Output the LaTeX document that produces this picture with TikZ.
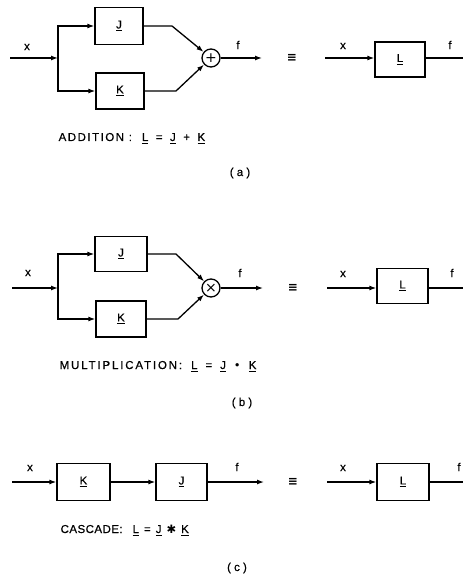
\documentclass[tikz,border=0pt]{standalone}
\usepackage{fontspec}
\setmainfont{Liberation Sans}[FakeBold=0.6]
\newfontfamily\symfont{DejaVu Sans}
\usetikzlibrary{arrows.meta}
\newcommand{\ul}[1]{\setbox0\hbox{#1}\rlap{\rule[-3pt]{\wd0}{1.1pt}}\box0}
\newcommand{\eqnrow}[2]{\ul{L}\hspace{#1}=\hspace{#1}\ul{J}\hspace{#1}#2\hspace{#1}\ul{K}}
\newcommand{\spaced}[2]{{\addfontfeature{LetterSpace=#1}#2}}
\begin{document}
\begin{tikzpicture}[x=1pt,y=-1pt,line width=1.3pt,
  blk/.style={draw,line width=1.3pt,inner sep=0pt,font=\fontsize{11.5}{13}\selectfont},
  sumc/.style={draw,circle,minimum size=18pt,inner sep=0pt,font=\fontsize{14}{14}\selectfont\symfont},
  arr/.style={-{Latex[length=7pt,width=5pt]}},
  lbl/.style={inner sep=0pt,font=\fontsize{11.5}{13}\selectfont},
  captxt/.style={inner sep=0pt,anchor=base west,font=\fontsize{11.5}{13}\selectfont},
  eqv/.style={inner sep=0pt,font=\fontsize{12}{14}\selectfont\symfont\bfseries}]
\useasboundingbox (0,0) rectangle (463,577);
% ---------------- (a) ----------------
\coordinate (ina) at (10,58);
\coordinate (bra) at (58,58);
\node[blk,minimum width=48pt,minimum height=37pt] (Ja) at (119,26) {\ul{J}};
\node[blk,minimum width=48pt,minimum height=36pt] (Ka) at (120,91) {\ul{K}};
\node[sumc] (suma) at (211,58) {+};
\coordinate (cJa) at (172,26);
\coordinate (cKa) at (176,91);
\coordinate (outa) at (262,58);
\draw[arr] (ina) -- (bra);
\draw[arr] (bra) |- (Ja.west);
\draw[arr] (bra) |- (Ka.west);
\draw[arr] (Ja.east) -- (cJa) -- (suma);
\draw[arr] (Ka.east) -- (cKa) -- (suma);
\draw[arr] (suma) -- (outa);
\node[lbl] (xa) at (27,47) {x};
\node[lbl] (fa) at (238,45) {f};
\node[eqv] (eqa) at (292,58) {≡};
\coordinate (inLa) at (325,58);
\node[blk,minimum width=50pt,minimum height=35pt] (La) at (400,59.5) {\ul{L}};
\coordinate (endLa) at (463,58);
\draw[arr] (inLa) -- (inLa -| La.west);
\draw (inLa -| La.east) -- (endLa);
\node[lbl] (xLa) at (343,46) {x};
\node[lbl] (fLa) at (450,45) {f};
\node[captxt] (capa) at (58,141) {\spaced{13}{ADDITION :}\hspace{10pt}\eqnrow{7.5pt}{+}};
\node[lbl] (laba) at (240,173) {( a )};
% ---------------- (b) ----------------
\coordinate (inb) at (12,288);
\coordinate (brb) at (58,288);
\node[blk,minimum width=52pt,minimum height=35pt] (Jb) at (121,254) {\ul{J}};
\node[blk,minimum width=50pt,minimum height=36pt] (Kb) at (121,319) {\ul{K}};
\node[sumc] (sumb) at (211,288) {×};
\coordinate (cJb) at (176,254);
\coordinate (cKb) at (178,319);
\coordinate (outb) at (263,288);
\draw[arr] (inb) -- (brb);
\draw[arr] (brb) |- (Jb.west);
\draw[arr] (brb) |- (Kb.west);
\draw[arr] (Jb.east) -- (cJb) -- (sumb);
\draw[arr] (Kb.east) -- (cKb) -- (sumb);
\draw[arr] (sumb) -- (outb);
\node[lbl] (xb) at (28,273) {x};
\node[lbl] (fb) at (240,273) {f};
\node[eqv] (eqb) at (293,288) {≡};
\coordinate (inLb) at (327,288);
\node[blk,minimum width=51pt,minimum height=35pt] (Lb) at (402.5,286) {\ul{L}};
\coordinate (endLb) at (463,288);
\draw[arr] (inLb) -- (inLb -| Lb.west);
\draw (inLb -| Lb.east) -- (endLb);
\node[lbl] (xLb) at (343,274) {x};
\node[lbl] (fLb) at (452,273) {f};
\node[captxt] (capb) at (59,369) {\spaced{16}{MULTIPLICATION:}\hspace{9pt}\eqnrow{8pt}{{\symfont •}}};
\node[lbl] (labb) at (242,403) {( b )};
% ---------------- (c) ----------------
\coordinate (inc) at (12,482);
\node[blk,minimum width=53pt,minimum height=37pt] (Kc) at (83.5,482) {\ul{K}};
\node[blk,minimum width=51pt,minimum height=37pt] (Jc) at (181.5,482) {\ul{J}};
\coordinate (outc) at (264,482);
\draw[arr] (inc) -- (inc -| Kc.west);
\draw[arr] (Kc) -- (Jc);
\draw[arr] (Jc) -- (outc);
\node[lbl] (xc) at (30,468) {x};
\node[lbl] (fc) at (237,467) {f};
\node[eqv] (eqc) at (293,482) {≡};
\coordinate (inLc) at (327,482);
\node[blk,minimum width=52pt,minimum height=37pt] (Lc) at (403,482) {\ul{L}};
\coordinate (endLc) at (463,482);
\draw[arr] (inLc) -- (inLc -| Lc.west);
\draw (inLc -| Lc.east) -- (endLc);
\node[lbl] (xLc) at (343,468) {x};
\node[lbl] (fLc) at (459,467) {f};
\node[captxt] (capc) at (60,533) {\spaced{4}{CASCADE:}\hspace{10pt}\eqnrow{5pt}{{\symfont ✱}}};
\node[lbl] (labc) at (237,568) {( c )};
\end{tikzpicture}
\end{document}
